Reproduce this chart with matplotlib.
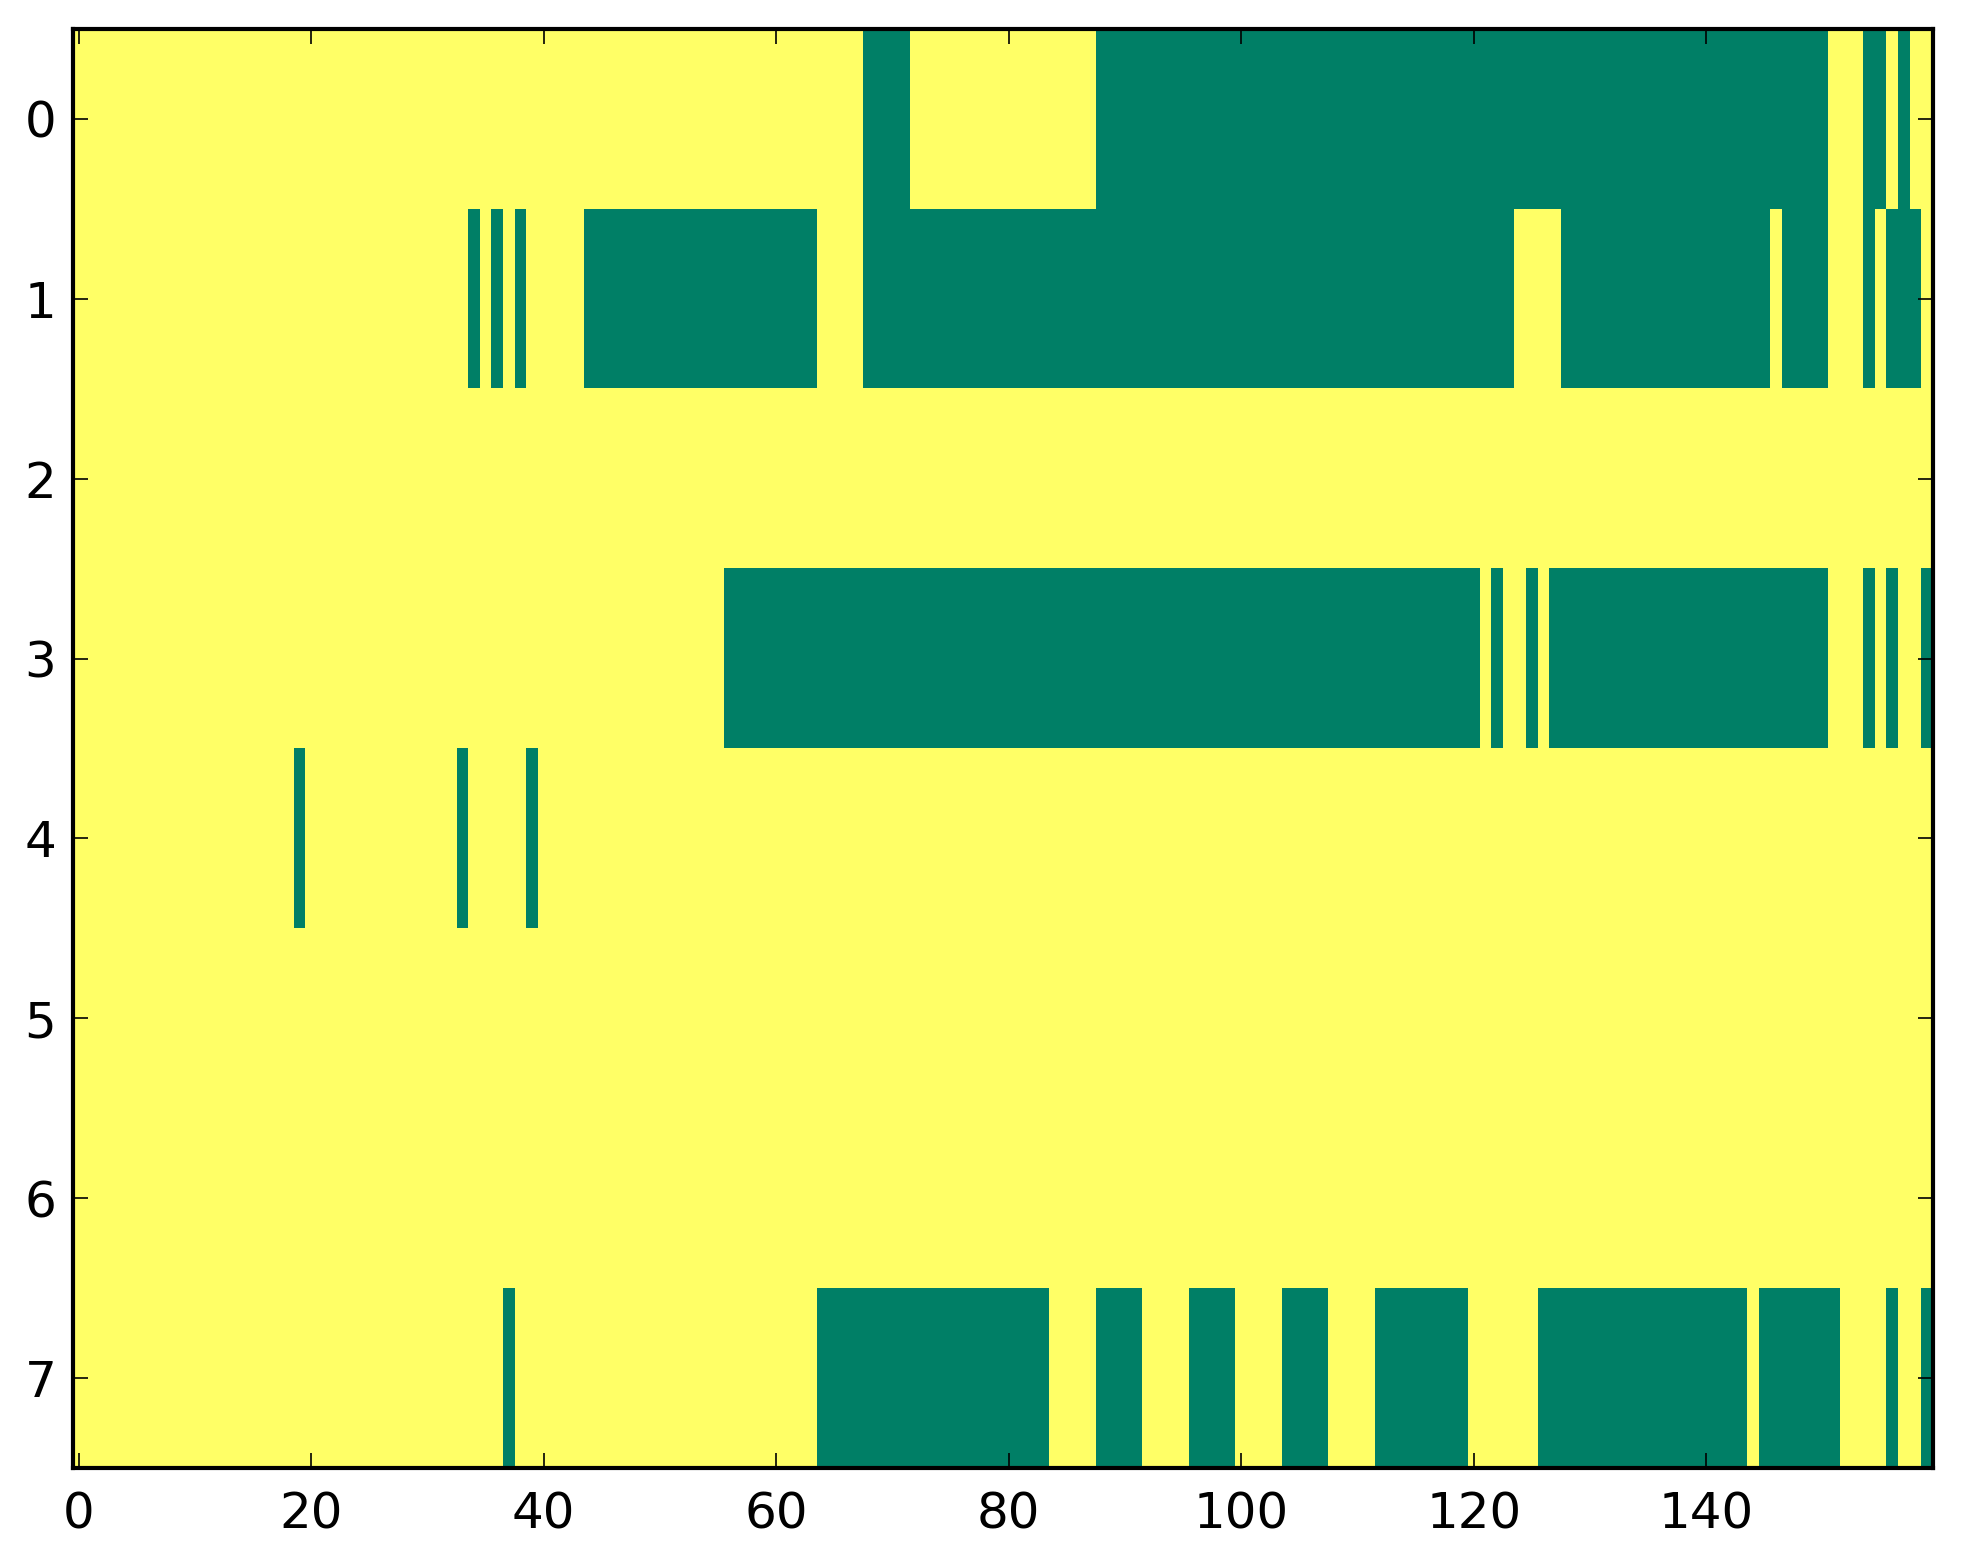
import numpy as np
import matplotlib
matplotlib.use("Agg")
import matplotlib.pyplot as plt

n_rows = 8
n_cols = 160

# green (value 0) runs per row, inclusive column ranges; everything else is 1 (yellow)
row0_zero = [(68, 71), (88, 150), (154, 155), (157, 157)]
row1_zero = [(34, 34), (36, 36), (38, 38), (44, 63), (68, 123), (128, 145),
             (147, 150), (154, 154), (156, 158)]
row2_zero = []
row3_zero = [(56, 120), (122, 122), (125, 125), (127, 150), (154, 154),
             (156, 156), (159, 159)]
row4_zero = [(19, 19), (33, 33), (39, 39)]
row5_zero = []
row6_zero = []
row7_zero = [(37, 37), (64, 83), (88, 91), (96, 99), (104, 107), (112, 119),
             (126, 143), (145, 151), (156, 156), (159, 159)]

rows = [row0_zero, row1_zero, row2_zero, row3_zero,
        row4_zero, row5_zero, row6_zero, row7_zero]

data = np.ones((n_rows, n_cols))
for r, runs in enumerate(rows):
    for a, b in runs:
        data[r, a:b + 1] = 0

W, H = 1963, 1564
fig = plt.figure(figsize=(W / 200, H / 200), dpi=200)
ax = fig.add_axes([73 / W, 1 - 1468 / H, (1933 - 73) / W, (1468 - 29) / H])
ax.imshow(data, cmap="summer", aspect="auto", interpolation="nearest", vmin=0, vmax=1)

ax.set_xticks(np.arange(0, 141, 20))
ax.set_yticks(np.arange(0, 8))
ax.tick_params(direction="in", top=True, right=True, length=5.4, width=0.6,
               labelsize=18)
ax.tick_params(axis="x", pad=8)
ax.tick_params(axis="y", pad=6)
for s in ax.spines.values():
    s.set_linewidth(1.5)

fig.savefig("out.png", dpi=200)
